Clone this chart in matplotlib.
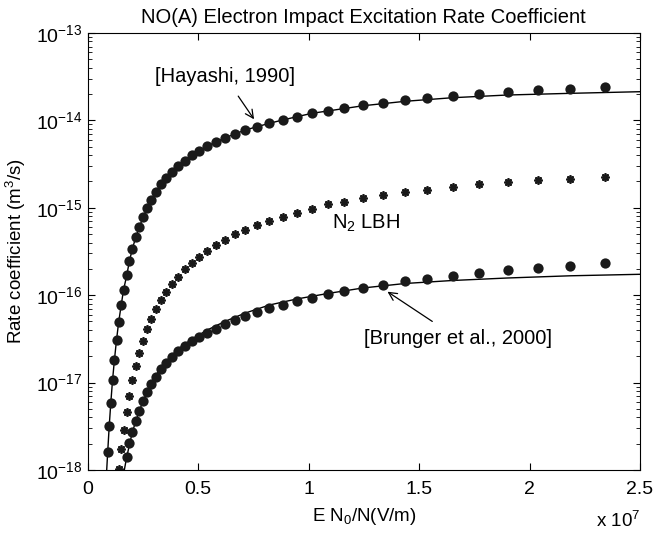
import matplotlib
matplotlib.use("Agg")
import matplotlib.pyplot as plt
from matplotlib.ticker import NullFormatter
import numpy as np

plt.rcParams['font.family'] = ['Liberation Sans', 'DejaVu Sans']
plt.rcParams['mathtext.fontset'] = 'custom'
plt.rcParams['mathtext.rm'] = 'Liberation Sans'
plt.rcParams['mathtext.it'] = 'Liberation Sans'
plt.rcParams['axes.unicode_minus'] = False

# common x grid (units of 1e7 V/m)
x_grid = [0.0906, 0.0974, 0.1046, 0.1123, 0.1209, 0.1304, 0.1404, 0.1517,
          0.1621, 0.1766, 0.1884, 0.2020, 0.2178, 0.2337, 0.2518, 0.2690,
          0.2876, 0.3093, 0.3306, 0.3546, 0.3818, 0.4090, 0.4393, 0.4724,
          0.5054, 0.5417, 0.5811, 0.6205, 0.6658, 0.7138, 0.7668, 0.8225,
          0.8832, 0.9466, 1.0159, 1.0870, 1.1621, 1.2455, 1.3388, 1.4370,
          1.5380, 1.6513, 1.7722, 1.9004, 2.0362, 2.1843, 2.3397]

# NO(A) rate coefficient, dots (Hayashi cross sections)
hayashi_dots = [1.62e-18, 3.19e-18, 5.89e-18, 1.057e-17, 1.814e-17, 3.07e-17,
                4.97e-17, 7.72e-17, 1.147e-16, 1.68e-16, 2.43e-16, 3.38e-16,
                4.63e-16, 6.03e-16, 7.91e-16, 9.87e-16, 1.238e-15, 1.528e-15,
                1.857e-15, 2.21e-15, 2.59e-15, 3.01e-15, 3.46e-15, 3.99e-15,
                4.50e-15, 5.10e-15, 5.66e-15, 6.29e-15, 6.99e-15, 7.77e-15,
                8.47e-15, 9.27e-15, 1.011e-14, 1.102e-14, 1.206e-14, 1.291e-14,
                1.397e-14, 1.489e-14, 1.594e-14, 1.698e-14, 1.804e-14, 1.902e-14,
                2.02e-14, 2.13e-14, 2.23e-14, 2.31e-14, 2.39e-14]

# N2 LBH (starts at grid index 6)
lbh_stars = [1.019e-18, 1.739e-18, 2.85e-18, 4.57e-18, 7.08e-18, 1.071e-17,
             1.548e-17, 2.16e-17, 3.01e-17, 4.07e-17, 5.30e-17, 6.90e-17,
             8.81e-17, 1.088e-16, 1.343e-16, 1.628e-16, 1.978e-16, 2.35e-16,
             2.76e-16, 3.23e-16, 3.75e-16, 4.28e-16, 5.01e-16, 5.57e-16,
             6.36e-16, 7.12e-16, 7.91e-16, 8.79e-16, 9.69e-16, 1.096e-15,
             1.174e-15, 1.285e-15, 1.401e-15, 1.504e-15, 1.599e-15, 1.743e-15,
             1.857e-15, 1.958e-15, 2.06e-15, 2.15e-15, 2.27e-15]

# Brunger dots (starts at grid index 9)
brunger_dots = [1.397e-18, 2.02e-18, 2.70e-18, 3.67e-18, 4.73e-18, 6.21e-18,
                7.74e-18, 9.64e-18, 1.168e-17, 1.419e-17, 1.663e-17, 1.948e-17,
                2.28e-17, 2.62e-17, 2.97e-17, 3.35e-17, 3.72e-17, 4.14e-17,
                4.68e-17, 5.20e-17, 5.78e-17, 6.42e-17, 7.08e-17, 7.72e-17,
                8.51e-17, 9.29e-17, 1.024e-16, 1.126e-16, 1.199e-16, 1.318e-16,
                1.442e-16, 1.532e-16, 1.671e-16, 1.795e-16, 1.927e-16, 2.05e-16,
                2.18e-16, 2.32e-16]

# solid curves
hayashi_line_x = [0.086] + x_grid[:35] + [1.2455, 1.4370, 1.6513, 1.9004, 2.1843, 2.5]
hayashi_line_y = [1.0e-18] + hayashi_dots[:35] + [1.47e-14, 1.654e-14, 1.818e-14,
                                                  1.952e-14, 2.04e-14, 2.13e-14]

brunger_line_x = [0.1658, 0.1766, 0.2020, 0.2337, 0.2699, 0.3093, 0.3546, 0.4090,
                  0.4724, 0.5417, 0.6205, 0.7138, 0.8225, 0.9466, 1.0870, 1.2455,
                  1.4370, 1.6513, 1.9004, 2.1843, 2.5]
brunger_line_y = [1.0e-18, 1.408e-18, 2.72e-18, 4.79e-18, 8.01e-18, 1.222e-17,
                  1.743e-17, 2.42e-17, 3.15e-17, 4.00e-17, 5.00e-17, 6.25e-17,
                  7.72e-17, 9.05e-17, 1.046e-16, 1.209e-16, 1.361e-16, 1.473e-16,
                  1.573e-16, 1.667e-16, 1.734e-16]

x_ticks = [0, 0.5, 1, 1.5, 2, 2.5]
y_ticks = [1e-18, 1e-17, 1e-16, 1e-15, 1e-14, 1e-13]

fig = plt.figure(figsize=(6.56, 5.34), dpi=100)
ax = fig.add_axes([0.1337, 0.1199, 0.8419, 0.8183])

ax.plot(hayashi_line_x, hayashi_line_y, color='black', lw=1.0)
ax.plot(brunger_line_x, brunger_line_y, color='black', lw=1.0)
ax.plot(x_grid, hayashi_dots, 'o', color='#1a1a1a', ms=7.4, mec='none')
ax.plot(x_grid[9:], brunger_dots, 'o', color='#1a1a1a', ms=7.4, mec='none')
ax.plot(x_grid[6:], lbh_stars, ls='none', marker=(8, 2, 0), color='#1a1a1a',
        ms=6.0, mew=1.3)

ax.set_yscale('log')
ax.set_xlim(0, 2.5)
ax.set_ylim(1e-18, 1e-13)
ax.set_xticks(x_ticks)
ax.set_xticklabels(['0', '0.5', '1', '1.5', '2', '2.5'])
ax.set_yticks(y_ticks)
ax.yaxis.set_minor_formatter(NullFormatter())
ax.tick_params(which='both', direction='in', top=True, right=True, labelsize=14)
ax.tick_params(which='major', length=5)
ax.tick_params(which='minor', length=3)
ax.tick_params(axis='x', pad=8)

ax.set_title('NO(A) Electron Impact Excitation Rate Coefficient', fontsize=14.5, pad=7)
ax.set_xlabel(r'E N$_0$/N(V/m)', fontsize=13.5, labelpad=6)
ax.set_ylabel(r'Rate coefficient (m$^3$/s)', fontsize=13.5, labelpad=6)
ax.text(1.0, -0.117, r'x 10$^7$', transform=ax.transAxes, ha='right', va='center',
        fontsize=13.5)

ax.annotate('[Hayashi, 1990]', xy=(0.753, 1.03e-14), xytext=(0.622, 3.14e-14),
            ha='center', va='center', fontsize=14.5,
            arrowprops=dict(arrowstyle='->', color='black', lw=0.9,
                            shrinkA=6, shrinkB=0))
ax.text(1.105, 6.65e-16, r'N$_2$ LBH', ha='left', va='center', fontsize=14.5)
ax.annotate('[Brunger et al., 2000]', xy=(1.357, 1.096e-16), xytext=(1.675, 3.21e-17),
            ha='center', va='center', fontsize=14.5,
            arrowprops=dict(arrowstyle='->', color='black', lw=0.9,
                            shrinkA=6, shrinkB=0))

fig.savefig('out.png', dpi=100)
